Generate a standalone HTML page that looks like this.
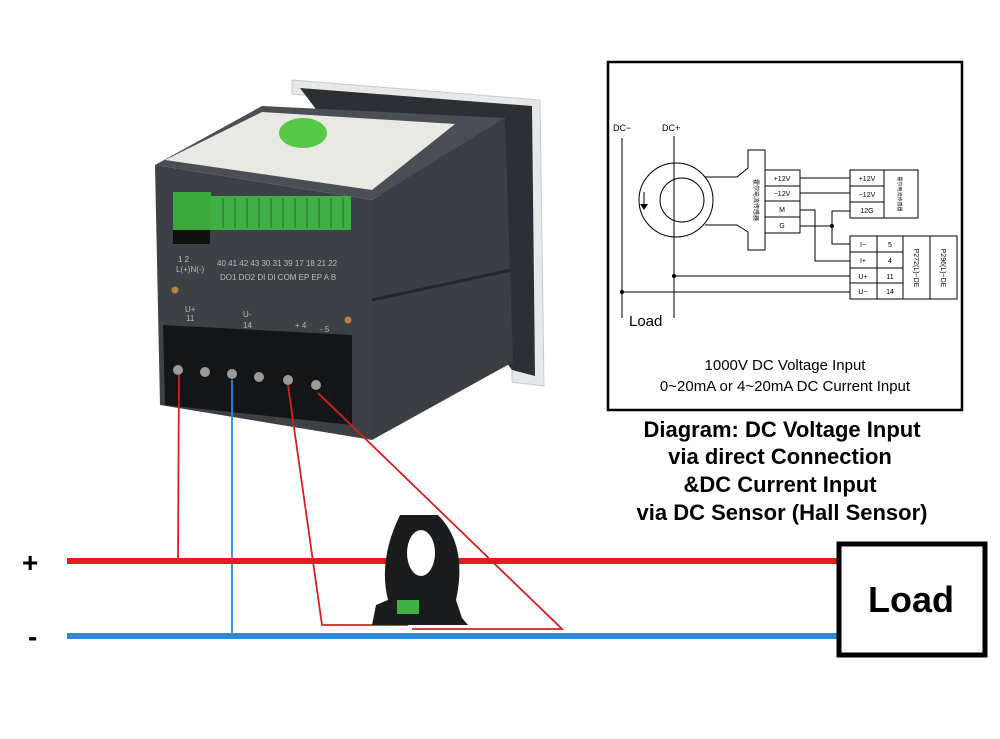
<!DOCTYPE html>
<html><head><meta charset="utf-8"><style>
html,body{margin:0;padding:0;background:#fff;}
svg{display:block;font-family:"Liberation Sans","Noto Sans CJK SC",sans-serif;}
</style></head><body>
<svg width="1000" height="739" viewBox="0 0 1000 739" xmlns="http://www.w3.org/2000/svg">
<rect width="1000" height="739" fill="#fff"/>
<!-- Meter -->
<polygon points="292,80 540,100 544,386 512,382 512,112 292,94" fill="#e6e8ea" stroke="#c8cacc"/>
<polygon points="300,88 532,106 535,376 512,370" fill="#2c3034"/>
<polygon points="155,165 262,106 505,118 372,200" fill="#4a4f55"/>
<polygon points="165,160 262,112 455,124 372,190" fill="#e9e9e4"/>
<ellipse cx="303" cy="133" rx="24" ry="15" fill="#58c84a"/>
<polygon points="372,200 505,118 513,362 372,440" fill="#3b3f44"/>
<polygon points="155,165 372,200 372,440 160,405" fill="#3d4146"/>
<line x1="372" y1="300" x2="511" y2="270" stroke="#23262a" stroke-width="3"/>
<rect x="173" y="192" width="38" height="38" fill="#3aa83c"/>
<rect x="211" y="196" width="140" height="34" fill="#3fb045"/>
<g stroke="#1f6e22" stroke-width="1">
<line x1="223" y1="198" x2="223" y2="228"/><line x1="235" y1="198" x2="235" y2="228"/><line x1="247" y1="198" x2="247" y2="228"/><line x1="259" y1="198" x2="259" y2="228"/><line x1="271" y1="198" x2="271" y2="228"/><line x1="283" y1="198" x2="283" y2="228"/><line x1="295" y1="198" x2="295" y2="228"/><line x1="307" y1="198" x2="307" y2="228"/><line x1="319" y1="198" x2="319" y2="228"/><line x1="331" y1="198" x2="331" y2="228"/><line x1="343" y1="198" x2="343" y2="228"/>
</g>
<rect x="173" y="230" width="37" height="14" fill="#111"/>
<g fill="#bbb" font-size="8">
<text x="178" y="262">1  2</text><text x="176" y="272">L(+)N(-)</text>
<text x="217" y="266">40 41 42 43 30 31 39 17 18 21 22</text>
<text x="220" y="280">DO1  DO2  DI DI COM EP EP A B</text>
<text x="185" y="312">U+</text><text x="186" y="321">11</text>
<text x="243" y="317">U-</text><text x="243" y="328">14</text>
<text x="295" y="328">+  4</text><text x="320" y="332">-  5</text>
</g>
<circle cx="175" cy="290" r="3.5" fill="#c08040"/>
<circle cx="348" cy="320" r="3.5" fill="#c08040"/>
<polygon points="163,325 352,335 352,425 165,405" fill="#141516"/>
<g fill="#9a9a9a">
<circle cx="178" cy="370" r="5"/><circle cx="205" cy="372" r="5"/><circle cx="232" cy="374" r="5"/><circle cx="259" cy="377" r="5"/><circle cx="288" cy="380" r="5"/><circle cx="316" cy="385" r="5"/>
</g>
<!-- wires -->
<g fill="none" stroke-width="1.8">
<polyline points="179,375 178,561" stroke="#d42020"/>
<polyline points="232,380 232,636" stroke="#2a8ad8"/>
<polyline points="288,385 322,625 408,625" stroke="#d42020"/>
<polyline points="318,393 562,629 412,629" stroke="#d42020"/>
</g>
<rect x="67" y="558" width="771" height="6" fill="#e21b1b"/>
<rect x="67" y="633" width="771" height="6" fill="#2a8ad8"/>
<text x="22" y="572" font-size="28" font-weight="bold">+</text>
<text x="28" y="646" font-size="28" font-weight="bold">-</text>
<!-- sensor -->
<path d="M400,515 L438,515 Q468,545 456,600 L462,618 L468,625 L372,625 L376,605 L388,600 Q378,560 400,515 Z" fill="#1b1c1e"/>
<ellipse cx="421" cy="553" rx="14" ry="23" fill="#fff"/>
<rect x="397" y="600" width="22" height="14" fill="#3fb045"/>
<!-- Load box -->
<rect x="839" y="544" width="146" height="111" fill="#fff" stroke="#000" stroke-width="5"/>
<text x="911" y="612" font-size="36" font-weight="bold" text-anchor="middle">Load</text>
<!-- Caption -->
<g font-size="22" font-weight="bold" text-anchor="middle">
<text x="782" y="437">Diagram: DC Voltage Input</text>
<text x="780" y="464">via direct Connection</text>
<text x="780" y="492">&amp;DC Current Input</text>
<text x="782" y="520">via DC Sensor (Hall Sensor)</text>
</g>
<!-- schematic -->
<rect x="608" y="62" width="354" height="348" fill="#fff" stroke="#000" stroke-width="2.5"/>
<g font-size="9" fill="#000">
<text x="613" y="131">DC−</text><text x="662" y="131">DC+</text>
</g>
<g stroke="#000" stroke-width="1" fill="none">
<line x1="622" y1="138" x2="622" y2="318"/>
<line x1="674" y1="136" x2="674" y2="318"/>
<circle cx="676" cy="200" r="37"/>
<circle cx="682" cy="200" r="22"/>
<polyline points="705,177 737,177 748,168 748,150 765,150 765,250 748,250 748,232 737,225 705,225"/>
<rect x="765" y="170" width="35" height="63"/>
<line x1="765" y1="186" x2="800" y2="186"/><line x1="765" y1="201" x2="800" y2="201"/><line x1="765" y1="217" x2="800" y2="217"/>
<rect x="850" y="170" width="68" height="48"/>
<line x1="850" y1="186" x2="884" y2="186"/><line x1="850" y1="202" x2="884" y2="202"/><line x1="884" y1="170" x2="884" y2="218"/>
<rect x="850" y="236" width="107" height="63"/>
<line x1="850" y1="252" x2="903" y2="252"/><line x1="850" y1="268" x2="903" y2="268"/><line x1="850" y1="283" x2="903" y2="283"/>
<line x1="877" y1="236" x2="877" y2="299"/><line x1="903" y1="236" x2="903" y2="299"/><line x1="930" y1="236" x2="930" y2="299"/>
<line x1="800" y1="178" x2="850" y2="178"/>
<line x1="800" y1="193" x2="850" y2="193"/>
<polyline points="800,210 815,210 815,261 850,261"/>
<line x1="800" y1="226" x2="832" y2="226"/>
<polyline points="850,211 832,211 832,244 850,244"/>
<line x1="674" y1="276" x2="850" y2="276"/>
<line x1="622" y1="292" x2="850" y2="292"/>
<line x1="644" y1="192" x2="644" y2="206"/>
</g>
<polygon points="640,204 648,204 644,210" fill="#000"/>
<circle cx="832" cy="226" r="2" fill="#000"/><circle cx="674" cy="276" r="2" fill="#000"/><circle cx="622" cy="292" r="2" fill="#000"/>
<g font-size="7" text-anchor="middle">
<text x="782" y="181">+12V</text><text x="782" y="196">−12V</text><text x="782" y="212">M</text><text x="782" y="228">G</text>
<text x="867" y="181">+12V</text><text x="867" y="197">−12V</text><text x="867" y="213">12G</text>
<text x="863" y="247">I−</text><text x="863" y="263">I+</text><text x="863" y="279">U+</text><text x="863" y="294">U−</text>
<text x="890" y="247">5</text><text x="890" y="263">4</text><text x="890" y="279">11</text><text x="890" y="294">14</text>
</g>
<text transform="translate(914,268) rotate(90)" font-size="7" text-anchor="middle">P272(L)−DE</text>
<text transform="translate(941,268) rotate(90)" font-size="7" text-anchor="middle">P296(L)−DE</text>
<text transform="translate(754,200) rotate(90)" font-size="6" text-anchor="middle">霍尔电流传感器</text>
<text transform="translate(898,194) rotate(90)" font-size="5" text-anchor="middle">霍尔电流传感器</text>
<text x="629" y="326" font-size="15">Load</text>
<text x="785" y="370" font-size="15" text-anchor="middle">1000V DC Voltage Input</text>
<text x="785" y="391" font-size="15" text-anchor="middle">0~20mA or 4~20mA DC Current Input</text>
</svg>
</body></html>
